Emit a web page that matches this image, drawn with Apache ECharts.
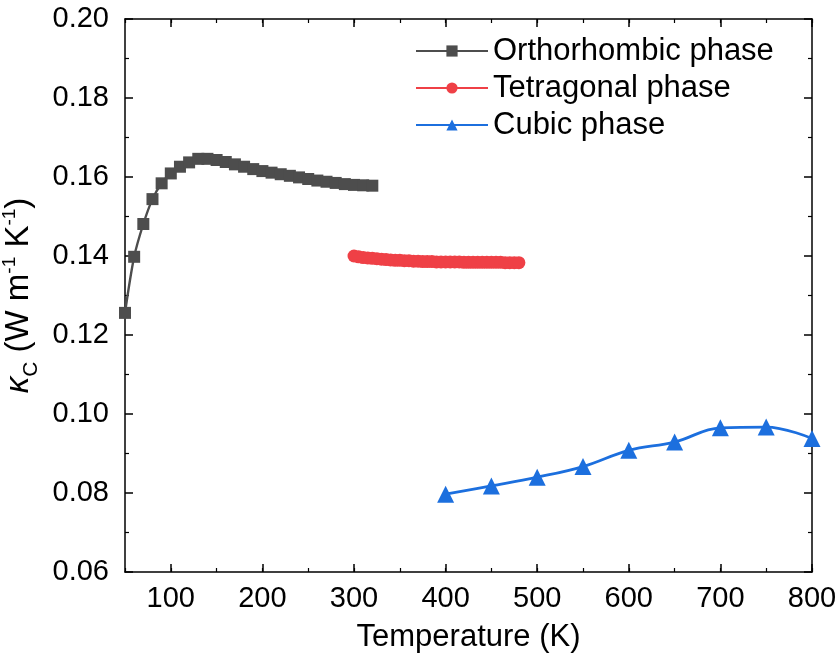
<!DOCTYPE html>
<html>
<head>
<meta charset="utf-8">
<script src="https://cdn.jsdelivr.net/npm/echarts@6/dist/echarts.min.js"></script>
<style>
  html, body { margin: 0; padding: 0; background: #fff; }
  #main { width: 840px; height: 664px; }
</style>
</head>
<body>
<div id="main"></div>
<script>
// data
var orthoT = [50, 60, 70, 80, 90, 100, 110, 120, 130, 140, 150, 160, 170, 180, 190, 200, 210, 220, 230, 240, 250, 260, 270, 280, 290, 300, 310, 320];
var orthoK = [0.1256, 0.1398, 0.1481, 0.1544, 0.1584, 0.1609, 0.1626, 0.1637, 0.1646, 0.1646, 0.1643, 0.1638, 0.1632, 0.1626, 0.1620, 0.1615, 0.1611, 0.1607, 0.1603, 0.1599, 0.1595, 0.1591, 0.1588, 0.1585, 0.1582, 0.1580, 0.1579, 0.1578];

var tetraT = [300, 305, 310, 315, 320, 325, 330, 335, 340, 345, 350, 355, 360, 365, 370, 375, 380, 385, 390, 395, 400, 405, 410, 415, 420, 425, 430, 435, 440, 445, 450, 455, 460, 465, 470, 475, 480];
var tetraK = [0.1400, 0.1398, 0.1396, 0.1395, 0.1394, 0.1393, 0.1392, 0.1391, 0.1390, 0.1389, 0.1389, 0.1388, 0.1388, 0.1387, 0.1387, 0.1386, 0.1386, 0.1386, 0.1385, 0.1385, 0.1385, 0.1385, 0.1385, 0.1385, 0.1384, 0.1384, 0.1384, 0.1384, 0.1384, 0.1384, 0.1384, 0.1384, 0.1384, 0.1383, 0.1383, 0.1383, 0.1383];

var cubicT = [400, 450, 500, 550, 600, 650, 700, 750, 800];
var cubicK = [0.0797, 0.0818, 0.0840, 0.0867, 0.0908, 0.0929, 0.0965, 0.0967, 0.0938];

var xMajor = [100, 200, 300, 400, 500, 600, 700, 800];

function pairs(xs, ys) {
  var out = [];
  for (var i = 0; i < xs.length; i++) out.push([xs[i], ys[i]]);
  return out;
}

var chart = echarts.init(document.getElementById('main'));
var font = '"Liberation Sans", Arial, sans-serif';
var black = '#000';

// bottom/top x axes: one for minor ticks + labels, one for the long major ticks
function xAx(pos, major, labels) {
  return {
    type: 'value', position: pos, min: 50, max: 800,
    interval: major ? undefined : 50,
    axisLine: { show: !major, onZero: false, lineStyle: { color: black, width: 1.5 } },
    axisTick: major
      ? { show: true, inside: true, length: 8, customValues: xMajor, lineStyle: { color: black, width: 1.5 } }
      : { show: true, inside: true, length: 4, lineStyle: { color: black, width: 1.2 } },
    axisLabel: labels ? {
      show: true, fontFamily: font, fontSize: 29, color: black, margin: 12,
      formatter: function (v) { return v % 100 === 0 ? String(v) : ''; }
    } : { show: false },
    splitLine: { show: false }
  };
}

function yAx(pos, labels) {
  return {
    type: 'value', position: pos, min: 0.06, max: 0.20, interval: 0.02,
    axisLine: { show: true, onZero: false, lineStyle: { color: black, width: 1.5 } },
    axisTick: { show: true, inside: true, length: 8, lineStyle: { color: black, width: 1.5 } },
    minorTick: { show: true, splitNumber: 2, length: 4, lineStyle: { color: black, width: 1.2 } },
    axisLabel: labels ? {
      show: true, fontFamily: font, fontSize: 29, color: black, margin: 16,
      formatter: function (v) { return v.toFixed(2); }
    } : { show: false },
    splitLine: { show: false }
  };
}

var xBottom = xAx('bottom', false, true);
xBottom.name = 'Temperature (K)';
xBottom.nameLocation = 'middle';
xBottom.nameGap = 50;
xBottom.nameTextStyle = { fontFamily: font, fontSize: 31, color: black };

var yLeft = yAx('left', true);
yLeft.name = '{k|κ}{sub|C} (W m{sup|-1} K{sup|-1})';
yLeft.nameLocation = 'middle';
yLeft.nameGap = 86;
yLeft.nameTextStyle = {
  fontFamily: font, fontSize: 33, color: black,
  rich: {
    k: { fontFamily: font, fontSize: 33, fontStyle: 'italic', color: black, lineHeight: 36 },
    sub: { fontFamily: font, fontSize: 21, color: black, verticalAlign: 'bottom', lineHeight: 36, padding: [0, 0, -5, 0] },
    sup: { fontFamily: font, fontSize: 19, color: black, verticalAlign: 'top', lineHeight: 36 }
  }
};

var option = {
  backgroundColor: '#fff',
  animation: false,
  grid: { left: 125, right: 28, top: 19, bottom: 92, containLabel: false, outerBoundsMode: 'none' },
  legend: {
    orient: 'vertical', left: 410, top: 30,
    itemWidth: 72, itemHeight: 14, itemGap: 5,
    textStyle: { fontFamily: font, fontSize: 31, color: black, lineHeight: 32 },
    data: ['Orthorhombic phase', 'Tetragonal phase', 'Cubic phase']
  },
  xAxis: [xBottom, xAx('bottom', true, false), xAx('top', false, false), xAx('top', true, false)],
  yAxis: [yLeft, yAx('right', false)],
  series: [
    {
      name: 'Orthorhombic phase', type: 'line', xAxisIndex: 0, yAxisIndex: 0,
      data: pairs(orthoT, orthoK), smooth: 0.3,
      symbol: 'rect', symbolSize: 12,
      itemStyle: { color: '#4d4d4d' }, lineStyle: { color: '#4d4d4d', width: 2.4 }
    },
    {
      name: 'Tetragonal phase', type: 'line', xAxisIndex: 0, yAxisIndex: 0,
      data: pairs(tetraT, tetraK), smooth: 0.3,
      symbol: 'circle', symbolSize: 13,
      itemStyle: { color: '#ef4046' }, lineStyle: { color: '#ef4046', width: 2.4 }
    },
    {
      name: 'Cubic phase', type: 'line', xAxisIndex: 0, yAxisIndex: 0,
      data: pairs(cubicT, cubicK), smooth: 0.4,
      symbol: 'triangle', symbolSize: 17,
      itemStyle: { color: '#1c6fde' }, lineStyle: { color: '#1c6fde', width: 2.8 }
    }
  ]
};
chart.setOption(option);
</script>
</body>
</html>
